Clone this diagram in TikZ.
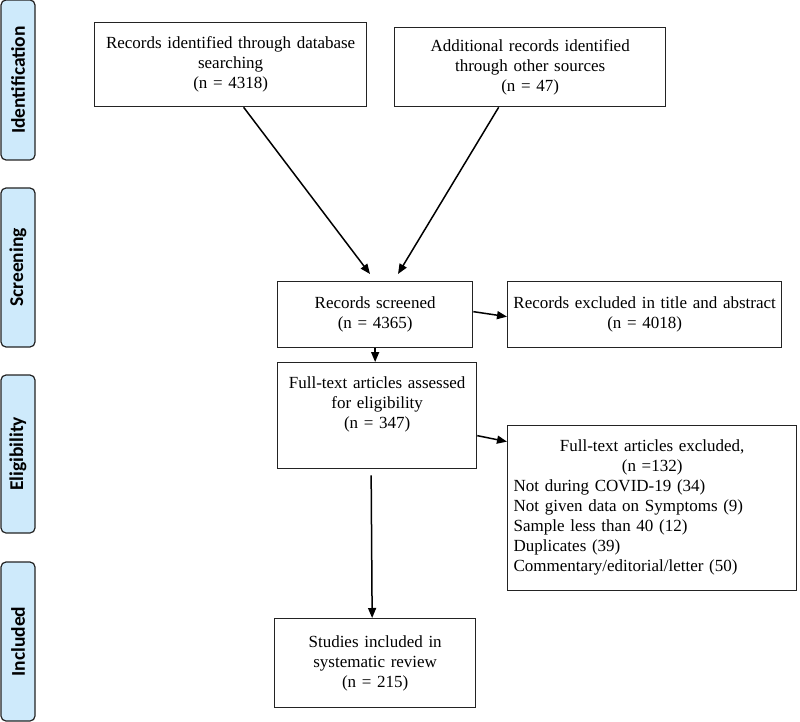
\documentclass[tikz,border=0pt]{standalone}
\usepackage{fontspec}
\setmainfont{Liberation Serif}
\newfontfamily\tabfont{Carlito}
\usetikzlibrary{arrows.meta}
\definecolor{tabblue}{RGB}{206,234,251}
\definecolor{edge}{RGB}{35,35,35}
\begin{document}
\begin{tikzpicture}[x=1pt,y=-1pt,
  tab/.style={draw=edge, line width=1.2pt, fill=tabblue, rounded corners=5pt,
    rotate=90, minimum height=34pt, inner sep=0pt,
    font=\tabfont\bfseries\fontsize{19.5}{20}\selectfont},
  box/.style={draw=edge, line width=1.3pt, anchor=north west, inner xsep=3pt,
    inner ysep=0pt, align=center, font=\fontsize{17}{20}\selectfont},
  arr/.style={draw=black, line width=1.5pt, -{Triangle[length=10pt,width=8pt]}}]
\useasboundingbox (0,0) rectangle (800,722);
% phase tabs
\node[tab, minimum width=160pt] (tid) at (18,80) {Identification};
\node[tab, minimum width=159pt] (tsc) at (18,267.5) {Screening};
\node[tab, minimum width=158pt] (tel) at (18,454) {Eligibility};
\node[tab, minimum width=159pt] (tin) at (18,641.5) {Included};
% boxes
\node[box, minimum width=272pt, minimum height=84pt, text width=266pt] (b1) at (94,22)
  {Records identified through database\\searching\\(n = 4318)};
\node[box, minimum width=271pt, minimum height=79pt, text width=265pt] (b2) at (394,27)
  {Additional records identified\\through other sources\\(n = 47)};
\node[box, minimum width=195pt, minimum height=66pt, text width=189pt] (b3) at (277,281)
  {Records screened\\(n = 4365)};
\node[box, minimum width=274pt, minimum height=66pt, text width=268pt] (b4) at (507,281)
  {Records excluded in title and abstract\\(n = 4018)};
\node[box, minimum width=199pt, minimum height=106pt, text width=193pt] (b5) at (277,362)
  {Full-text articles assessed\\for eligibility\\(n = 347)\\[6pt]~};
\node[box, minimum width=289pt, minimum height=165pt, text width=277pt, inner xsep=6pt, align=left] (b6) at (507,425)
  {\makebox[277pt]{Full-text articles excluded,}\\
   \makebox[277pt]{(n =132)}\\
   Not during COVID-19 (34)\\
   Not given data on Symptoms (9)\\
   Sample less than 40 (12)\\
   Duplicates (39)\\
   Commentary/editorial/letter (50)\\[-14pt]~};
\node[box, minimum width=201pt, minimum height=89pt, text width=195pt] (b7) at (274,618)
  {Studies included in\\systematic review\\(n = 215)};
% connectors
\coordinate (t1) at (370,274);
\coordinate (t2) at (398,274);
\draw[arr] ([xshift=13pt]b1.south) -- (t1);
\draw[arr] ([xshift=-31.5pt]b2.south) -- (t2);
\draw[arr] ([yshift=3pt]b3.east) -- ([yshift=-2pt]b4.west);
\draw[arr] (b3.south) -- (b3.south |- b5.north);
\draw[arr] ([yshift=-20pt]b5.east) -- ([yshift=66.5pt]b6.west);
\draw[arr] ([xshift=-6pt,yshift=-6pt]b5.south) -- ([xshift=-3pt]b7.north);
\end{tikzpicture}
\end{document}
